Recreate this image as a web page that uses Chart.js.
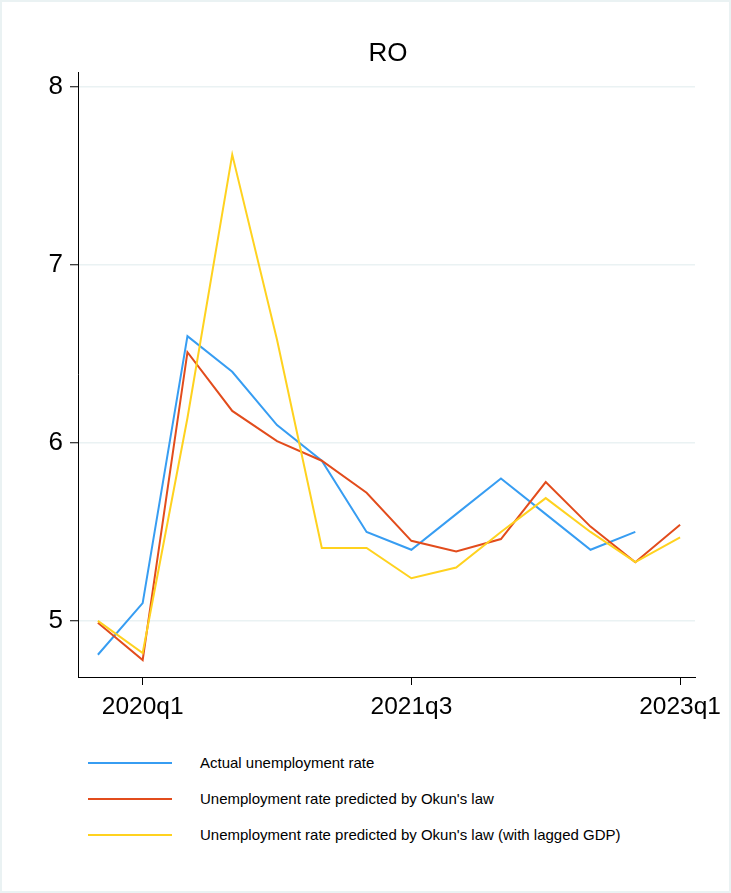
<!DOCTYPE html>
<html>
<head>
<meta charset="utf-8">
<script src="https://cdn.jsdelivr.net/npm/chart.js@4.4.0/dist/chart.umd.min.js"></script>
<style>
  body { margin: 0; background: #fff; font-family: "Liberation Sans", Arial, sans-serif; }
  #frame { position: absolute; left: 0; top: 0; width: 731px; height: 893px; box-sizing: border-box;
           border: 2px solid #eaf2f3; }
  #wrap { position: absolute; left: 0; top: 0; width: 731px; height: 740px; }
  #title { position: absolute; left: 288px; width: 200px; top: 37px; text-align: center;
           font-size: 26px; line-height: 31px; color: #000; }
  #legend { position: absolute; left: 0; top: 0; width: 731px; }
  .item { position: absolute; left: 88px; height: 20px; }
  .item .ln { position: absolute; left: 0; top: 9px; width: 84px; height: 2px; }
  .item .tx { position: absolute; left: 112px; top: 0; white-space: nowrap; font-size: 15px; line-height: 20px; color: #000; }
</style>
</head>
<body>
<div id="frame"></div>
<div id="wrap"><canvas id="myChart" width="731" height="740"></canvas></div>
<div id="title">RO</div>
<div id="legend"></div>
<script>
// quarters, 2019q4 .. 2023q1
var quarters = ['2019q4','2020q1','2020q2','2020q3','2020q4','2021q1','2021q2','2021q3','2021q4','2022q1','2022q2','2022q3','2022q4','2023q1'];
var xTicks = [1, 7, 13];
var yTicks = [5, 6, 7, 8];

var actual = [4.81, 5.10, 6.60, 6.40, 6.10, 5.90, 5.50, 5.40, 5.60, 5.80, 5.60, 5.40, 5.50];
var okun = [4.99, 4.78, 6.51, 6.18, 6.01, 5.90, 5.72, 5.45, 5.39, 5.46, 5.78, 5.53, 5.33, 5.54];
var okunLag = [5.00, 4.82, 6.14, 7.62, 6.58, 5.41, 5.41, 5.24, 5.30, 5.50, 5.69, 5.50, 5.33, 5.47];

var names = ['Actual unemployment rate', "Unemployment rate predicted by Okun's law", "Unemployment rate predicted by Okun's law (with lagged GDP)"];
var colors = ['#379df2', '#e24c1c', '#ffd21f'];

var fam = '"Liberation Sans", Arial, sans-serif';

function toPoints(arr) {
    return arr.map(function(v, i) { return {x: i, y: v}; });
}

var series = [actual, okun, okunLag];
var dataset = series.map(function(s, i) {
    return {
        label: names[i],
        data: toPoints(s),
        borderColor: colors[i],
        backgroundColor: colors[i],
        borderWidth: 2,
        pointRadius: 0,
        tension: 0,
        order: 3 - i
    };
});

var config = {
    type: 'line',
    data: { datasets: dataset },
    options: {
        responsive: false,
        animation: false,
        layout: { padding: { left: 0, right: 36, top: 72, bottom: 0 } },
        plugins: {
            legend: { display: false },
            tooltip: { enabled: false },
            title: { display: false }
        },
        scales: {
            x: {
                type: 'linear',
                min: -0.444,
                max: 13.333,
                afterBuildTicks: function(scale) { scale.ticks = xTicks.map(function(v) { return {value: v}; }); },
                afterFit: function(scale) { scale.height = 63; },
                ticks: {
                    color: '#000',
                    padding: 8,
                    maxRotation: 0,
                    autoSkip: false,
                    font: { family: fam, size: 24.5 },
                    callback: function(value) { return quarters[value]; }
                },
                grid: { drawOnChartArea: false, drawTicks: true, tickLength: 8, tickColor: '#000', tickWidth: 1 },
                border: { display: true, color: '#000', width: 1 }
            },
            y: {
                type: 'linear',
                min: 4.685,
                max: 8.084,
                afterBuildTicks: function(scale) { scale.ticks = yTicks.map(function(v) { return {value: v}; }); },
                afterFit: function(scale) { scale.width = 78; },
                ticks: {
                    color: '#000',
                    padding: 7,
                    font: { family: fam, size: 26 },
                    callback: function(value) { return value; }
                },
                grid: { color: '#eaf2f3', lineWidth: 1.5, drawTicks: true, tickLength: 8, tickColor: '#000', tickWidth: 1 },
                border: { display: true, color: '#000', width: 1 }
            }
        }
    }
};

var ctx = document.getElementById('myChart').getContext('2d');
var myChart = new Chart(ctx, config);

// legend below the plot, one row per series
var rowsY = [753, 789, 825];
var legend = document.getElementById('legend');
myChart.data.datasets.forEach(function(d, i) {
    var item = document.createElement('div');
    item.className = 'item';
    item.style.top = rowsY[i] + 'px';
    var ln = document.createElement('div');
    ln.className = 'ln';
    ln.style.background = d.borderColor;
    var tx = document.createElement('div');
    tx.className = 'tx';
    tx.textContent = d.label;
    item.appendChild(ln);
    item.appendChild(tx);
    legend.appendChild(item);
});
</script>
</body>
</html>
